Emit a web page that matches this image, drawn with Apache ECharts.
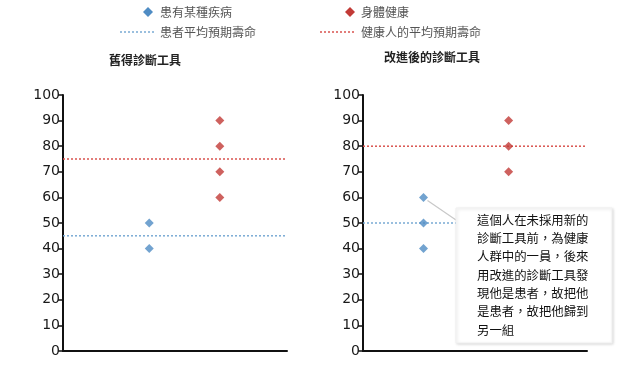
<!DOCTYPE html>
<html><head><meta charset="utf-8">
<script src="https://cdn.jsdelivr.net/npm/echarts@6/dist/echarts.min.js"></script>
<style>html,body{margin:0;padding:0;background:#fff}#c{width:635px;height:367px}</style>
</head><body><div id="c"></div>
<script>
// ---- data ----
const panelTitles = ['舊得診斷工具', '改進後的診斷工具'];
const legendNames = ['患有某種疾病', '身體健康', '患者平均預期壽命', '健康人的平均預期壽命'];
const yTicks = [0,10,20,30,40,50,60,70,80,90,100];
// group x-positions (0..10 scale) per panel
const oldSickX = 3.85, oldHealthyX = 7.0;
const newSickX = 2.7, newHealthyX = 6.5;
const oldSick = [40, 50];
const oldHealthy = [60, 70, 80, 90];
const newSick = [40, 50, 60];
const newHealthy = [70, 80, 90];
const oldSickAvg = 45, oldHealthyAvg = 75;
const newSickAvg = 50, newHealthyAvg = 80;
const newSickAvgEnd = 4.2;
const noteLines = ['這個人在未採用新的','診斷工具前，為健康','人群中的一員，後來','用改進的診斷工具發','現他是患者，故把他','是患者，故把他歸到','另一組'];

const BLUE = '#4f8cc4', RED = '#c23a36';
const BLUE_L = '#7aaad4', RED_L = '#d9534f';
const FONT = '"Noto Sans CJK TC", "Noto Sans CJK SC", sans-serif';

const chart = echarts.init(document.getElementById('c'));
function xAxis(i){return {gridIndex:i,type:'value',min:0,max:10,axisLine:{show:true,lineStyle:{color:'#111',width:2}},axisTick:{show:false},axisLabel:{show:false},splitLine:{show:false}};}
function yAxis(i){return {gridIndex:i,type:'value',min:yTicks[0],max:yTicks[yTicks.length-1],interval:10,axisLine:{show:true,lineStyle:{color:'#111',width:2}},axisTick:{show:true,length:5,lineStyle:{color:'#111',width:1.5}},axisLabel:{color:'#1a1a1a',fontSize:14,margin:3,fontFamily:'DejaVu Sans, sans-serif'},splitLine:{show:false}};}
function pts(x, arr){return arr.map(v=>[x,v]);}
function scat(i,x,arr,color){return {type:'scatter',xAxisIndex:i,yAxisIndex:i,symbol:'diamond',symbolSize:9,data:pts(x,arr),itemStyle:{color:color},z:5};}
function avg(i,y,x1,color){return {type:'line',xAxisIndex:i,yAxisIndex:i,symbol:'none',data:[[0,y],[x1,y]],lineStyle:{color:color,width:1.5,type:[2,2]},z:3};}

const option = {
  animation:false,
  textStyle:{fontFamily:FONT},
  grid:[
    {left:63,right:348,top:95,bottom:16},
    {left:363,right:48,top:95,bottom:16}
  ],
  xAxis:[xAxis(0),xAxis(1)],
  yAxis:[yAxis(0),yAxis(1)],
  series:[
    avg(0,oldSickAvg,10,BLUE_L),
    avg(0,oldHealthyAvg,10,RED_L),
    avg(1,newSickAvg,newSickAvgEnd,BLUE_L),
    avg(1,newHealthyAvg,10,RED_L),
    scat(0,oldSickX,oldSick,BLUE),
    scat(0,oldHealthyX,oldHealthy,RED),
    scat(1,newSickX,newSick,BLUE),
    scat(1,newHealthyX,newHealthy,RED)
  ]
};
chart.setOption(option);

// legend, titles + annotation as graphics
const p60 = chart.convertToPixel({gridIndex:1},[newSickX,60]);
const boxL = 456, boxT = 208, boxW = 156, boxH = 135;
const g = [];
function legText(x,y,t){return {type:'text',x:x,y:y,style:{text:t,fontSize:12,fill:'#555',fontFamily:FONT,textVerticalAlign:'middle',verticalAlign:'middle'}};}
function diamond(cx,cy,c){return {type:'polygon',shape:{points:[[cx,cy-5],[cx+5,cy],[cx,cy+5],[cx-5,cy]]},style:{fill:c}};}
g.push({type:'text',x:145,y:60,style:{text:panelTitles[0],fontSize:12,fontWeight:'bold',fill:'#222',fontFamily:FONT,align:'center',textAlign:'center',verticalAlign:'middle',textVerticalAlign:'middle'}});
g.push({type:'text',x:432,y:57,style:{text:panelTitles[1],fontSize:12,fontWeight:'bold',fill:'#222',fontFamily:FONT,align:'center',textAlign:'center',verticalAlign:'middle',textVerticalAlign:'middle'}});
g.push(diamond(148,12,BLUE));
g.push(legText(160,12,legendNames[0]));
g.push(diamond(350,12,RED));
g.push(legText(361,12,legendNames[1]));
g.push({type:'line',shape:{x1:120,y1:32,x2:156,y2:32},style:{stroke:BLUE_L,lineWidth:1.5,lineDash:[2,2]}});
g.push(legText(160,32,legendNames[2]));
g.push({type:'line',shape:{x1:320,y1:32,x2:356,y2:32},style:{stroke:RED_L,lineWidth:1.5,lineDash:[2,2]}});
g.push(legText(361,32,legendNames[3]));
g.push({type:'line',shape:{x1:p60[0]+4,y1:p60[1]+3,x2:boxL,y2:boxT+12},style:{stroke:'#c8c8c8',lineWidth:1.2},z:4});
g.push({type:'rect',shape:{x:boxL,y:boxT,width:boxW,height:boxH},style:{fill:'#fff',stroke:'#f0f0f0',lineWidth:1,shadowBlur:3,shadowColor:'rgba(0,0,0,0.14)',shadowOffsetX:1,shadowOffsetY:1},z:10});
g.push({type:'text',x:boxL+21,y:boxT+3,z:11,style:{text:noteLines.join('\n'),fontSize:12.4,lineHeight:18.3,fill:'#111',fontFamily:FONT}});
chart.setOption({graphic:g});
</script></body></html>
